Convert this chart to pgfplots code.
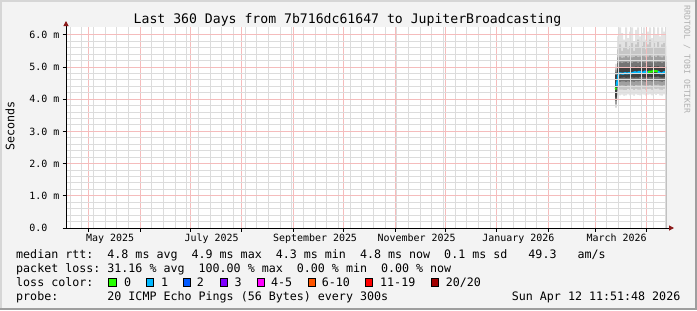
\documentclass[border=0pt]{standalone}
\usepackage{fontspec}
\setmainfont{DejaVu Sans Mono}
\setmonofont{DejaVu Sans Mono}
\usepackage{pgfplots}
\usepackage{pgfplotstable}
\pgfplotsset{compat=1.18}
\usetikzlibrary{arrows.meta}

\definecolor{bg}{HTML}{F3F3F3}
\definecolor{shadea}{HTML}{D6D6D6}
\definecolor{shadeb}{HTML}{9E9E9E}
\definecolor{mgrid}{HTML}{F5BCBC}
\definecolor{ngrid}{HTML}{DCDCDC}
\definecolor{arrowred}{HTML}{8B1A1A}
\definecolor{wmark}{HTML}{B0B0B0}
\definecolor{lzero}{HTML}{26FF00}
\definecolor{lone}{HTML}{00B8FF}
\definecolor{ltwo}{HTML}{0059FF}
\definecolor{lthree}{HTML}{7E00FF}
\definecolor{lfive}{HTML}{FF00FF}
\definecolor{lten}{HTML}{FF5500}
\definecolor{lnineteen}{HTML}{FF0000}
\definecolor{ltwenty}{HTML}{A10000}
\definecolor{cA}{HTML}{E3E3E3}
\definecolor{cB}{HTML}{C6C6C6}
\definecolor{cC}{HTML}{A0A0A0}
\definecolor{cD}{HTML}{747474}
\definecolor{cE}{HTML}{404040}

\newcommand\tickfont{\fontsize{10}{12}\selectfont}
\newcommand\legfont{\fontsize{11.7}{14}\selectfont}
\newcommand\titfont{\fontsize{13.2}{15}\selectfont}

\pgfplotstableread{
x      hi0  hi1  hi2  hi3  hi4  lo4  lo3  lo2  lo1  lo0
329.4  5.10 5.00 4.92 4.85 4.75 4.05 3.95 3.85 3.78 3.72
330.6  5.95 5.55 5.30 5.12 4.95 4.45 4.35 4.25 4.12 4.00
331.8  6.23 5.70 5.32 5.14 4.99 4.66 4.54 4.42 4.30 4.12
333.0  6.05 5.50 5.28 5.12 4.98 4.67 4.55 4.43 4.30 4.14
334.2  5.85 5.60 5.30 5.14 5.00 4.68 4.55 4.42 4.28 4.10
335.4  6.23 5.80 5.34 5.15 5.00 4.66 4.53 4.40 4.28 4.12
336.6  5.90 5.55 5.30 5.12 4.98 4.67 4.55 4.43 4.31 4.15
337.8  6.10 5.65 5.33 5.15 5.00 4.67 4.54 4.42 4.29 4.12
339.0  6.23 5.75 5.30 5.13 4.99 4.68 4.55 4.43 4.31 4.14
340.2  5.80 5.50 5.31 5.15 5.00 4.67 4.54 4.41 4.28 4.10
341.4  6.15 5.70 5.34 5.16 5.01 4.68 4.56 4.44 4.32 4.15
342.6  6.23 5.85 5.31 5.13 4.99 4.67 4.55 4.43 4.30 4.13
343.8  5.95 5.60 5.32 5.15 5.01 4.69 4.56 4.43 4.30 4.12
345.0  6.05 5.65 5.34 5.16 5.01 4.69 4.56 4.44 4.32 4.15
346.2  6.23 5.80 5.33 5.14 5.00 4.68 4.55 4.43 4.31 4.14
347.4  5.85 5.55 5.30 5.13 4.99 4.67 4.54 4.42 4.29 4.11
348.6  6.10 5.70 5.32 5.15 5.01 4.68 4.56 4.43 4.31 4.14
349.8  6.23 5.85 5.35 5.16 5.02 4.69 4.56 4.44 4.32 4.15
351.0  5.90 5.60 5.31 5.14 5.00 4.68 4.55 4.42 4.29 4.12
352.2  6.23 5.75 5.34 5.16 5.02 4.69 4.57 4.45 4.33 4.16
353.4  6.00 5.60 5.31 5.14 5.01 4.69 4.56 4.44 4.31 4.13
354.6  6.23 5.80 5.35 5.16 5.02 4.70 4.57 4.45 4.33 4.16
355.8  5.95 5.60 5.32 5.15 5.00 4.68 4.55 4.43 4.30 4.12
357.0  6.23 5.70 5.30 5.13 4.99 4.67 4.54 4.42 4.29 4.11
358.2  6.10 5.75 5.33 5.15 5.01 4.68 4.56 4.44 4.32 4.15
359.4  6.00 5.65 5.34 5.15 5.01 4.69 4.56 4.44 4.32 4.15
360.0  6.00 5.65 5.34 5.15 5.01 4.69 4.56 4.44 4.32 4.15
}\smoke

\begin{document}
\begin{tikzpicture}[x=1bp,y=1bp]
\useasboundingbox (0,0) rectangle (697,310);
\fill[bg] (0,0) rectangle (697,310);
\fill[shadea] (0,308) rectangle (697,310);
\fill[shadea] (0,0) rectangle (2,310);
\fill[shadeb] (0,0) rectangle (697,2);
\fill[shadeb] (695,0) rectangle (697,310);

\begin{axis}[
  name=ax,
  at={(66bp,82bp)}, anchor=south west,
  scale only axis, width=600bp, height=200.6bp,
  xmin=0, xmax=360, ymin=0, ymax=6.23,
  axis on top,
  axis background/.style={fill=white},
  axis line style={draw=none},
  xtick pos=left, ytick pos=left,
  tick align=outside,
  major tick length=3.5bp, minor tick length=0bp,
  tick style={black, line width=0.8bp},
  xtick={13.506,44.506,74.506,105.506,136.506,166.506,197.506,227.506,258.506,289.506,317.506,348.506},
  xticklabels={May~2025,{},July~2025,{},September~2025,{},November~2025,{},January~2026,{},March~2026,{}},
  minor xtick={2.506,9.506,...,359.6},
  xmajorgrids=true, xminorgrids=true,
  xticklabel style={font=\tickfont, anchor=base, inner sep=0pt, yshift=-10.3bp, xshift=21.5bp},
  ytick={0,1,2,3,4,5,6},
  yticklabels={0.0\hphantom{~m},1.0~m,2.0~m,3.0~m,4.0~m,5.0~m,6.0~m},
  minor y tick num=4,
  ymajorgrids=true, yminorgrids=true,
  yticklabel style={font=\tickfont, anchor=east, inner sep=0pt, xshift=-3bp},
  major grid style={mgrid, line width=1bp},
  minor grid style={ngrid, line width=1bp},
]
\addplot[draw=none, fill=cA, const plot] table[x=x, y=hi0] {\smoke} \closedcycle;
\addplot[draw=none, fill=cB, const plot] table[x=x, y=hi1] {\smoke} \closedcycle;
\addplot[draw=none, fill=cC, const plot] table[x=x, y=hi2] {\smoke} \closedcycle;
\addplot[draw=none, fill=cD, const plot] table[x=x, y=hi3] {\smoke} \closedcycle;
\addplot[draw=none, fill=cE, const plot] table[x=x, y=hi4] {\smoke} \closedcycle;
\addplot[draw=none, fill=cD, const plot] table[x=x, y=lo4] {\smoke} \closedcycle;
\addplot[draw=none, fill=cC, const plot] table[x=x, y=lo3] {\smoke} \closedcycle;
\addplot[draw=none, fill=cB, const plot] table[x=x, y=lo2] {\smoke} \closedcycle;
\addplot[draw=none, fill=cA, const plot] table[x=x, y=lo1] {\smoke} \closedcycle;
\addplot[draw=none, fill=white, const plot] table[x=x, y=lo0] {\smoke} \closedcycle;
% median rtt coloured by loss
\addplot[lzero, line width=2bp] coordinates {(329.4,4.32) (330.3,4.34)};
\addplot[lone, line width=2bp] coordinates {(330.3,4.42) (330.9,4.58) (331.5,4.80) (333.0,4.80) (334.2,4.79) (335.4,4.81) (336.6,4.80) (337.8,4.81) (339.0,4.80) (340.2,4.82) (341.4,4.84) (342.6,4.82) (343.8,4.85) (345.0,4.84) (346.2,4.82) (347.4,4.86) (348.6,4.83) (349.2,4.84)};
\addplot[lzero, line width=2bp] coordinates {(349.2,4.84) (350.4,4.86) (351.6,4.86) (352.8,4.88) (354.0,4.87) (355.2,4.86)};
\addplot[lone, line width=2bp] coordinates {(355.2,4.86) (356.4,4.81) (357.6,4.80) (358.8,4.84) (359.4,4.83)};
\addplot[lzero, line width=2bp] coordinates {(359.4,4.83) (360,4.82)};
\end{axis}

% axis lines with arrows
\draw[black, line width=1bp, -{Triangle[length=5bp,width=5bp,color=arrowred]}] (66,82) -- (674,82);
\draw[black, line width=1bp, -{Triangle[length=5bp,width=5bp,color=arrowred]}] (66,82) -- (66,289);

% title and labels
\node[anchor=base, inner sep=0pt, font=\titfont] at (347.5,286.3) {Last~360~Days~from~7b716dc61647~to~JupiterBroadcasting};
\node[rotate=90, inner sep=0pt, font=\legfont] at (10,184) {Seconds};
\node[rotate=-90, inner sep=0pt, font=\fontsize{8.2}{10}\selectfont, text=wmark] at (687,250.5) {RRDTOOL~/~TOBI~OETIKER};

% legend
\node[anchor=base west, inner sep=0pt, font=\legfont] at (16,51.3) {median~rtt:~~4.8~ms~avg~~4.9~ms~max~~4.3~ms~min~~4.8~ms~now~~0.1~ms~sd~~~49.3~~~am/s};
\node[anchor=base west, inner sep=0pt, font=\legfont] at (16,37.2) {packet~loss:~31.16~\%~avg~~100.00~\%~max~~0.00~\%~min~~0.00~\%~now};
\node[anchor=base west, inner sep=0pt, font=\legfont] at (16,23.3) {loss~color:};
\foreach \bx/\col/\lx/\lab in {108.7/lzero/124/0, 146/lone/161/1, 183.3/ltwo/196.7/2, 220/lthree/234.3/3, 257.3/lfive/271/4-5, 308/lten/321.7/6-10, 365/lnineteen/380/11-19, 431/ltwenty/445.7/{20/20}}{
  \filldraw[fill=\col, draw=black, line width=0.8bp] (\bx,23.8) rectangle ++(7.5,8);
  \node[anchor=base west, inner sep=0pt, font=\legfont] at (\lx,23.3) {\lab};
}
\node[anchor=base west, inner sep=0pt, font=\legfont] at (16,9.4) {probe:~~~~~~~20~ICMP~Echo~Pings~(56~Bytes)~every~300s};
\node[anchor=base east, inner sep=0pt, font=\legfont] at (680.5,9.4) {Sun~Apr~12~11:51:48~2026};
\end{tikzpicture}
\end{document}
